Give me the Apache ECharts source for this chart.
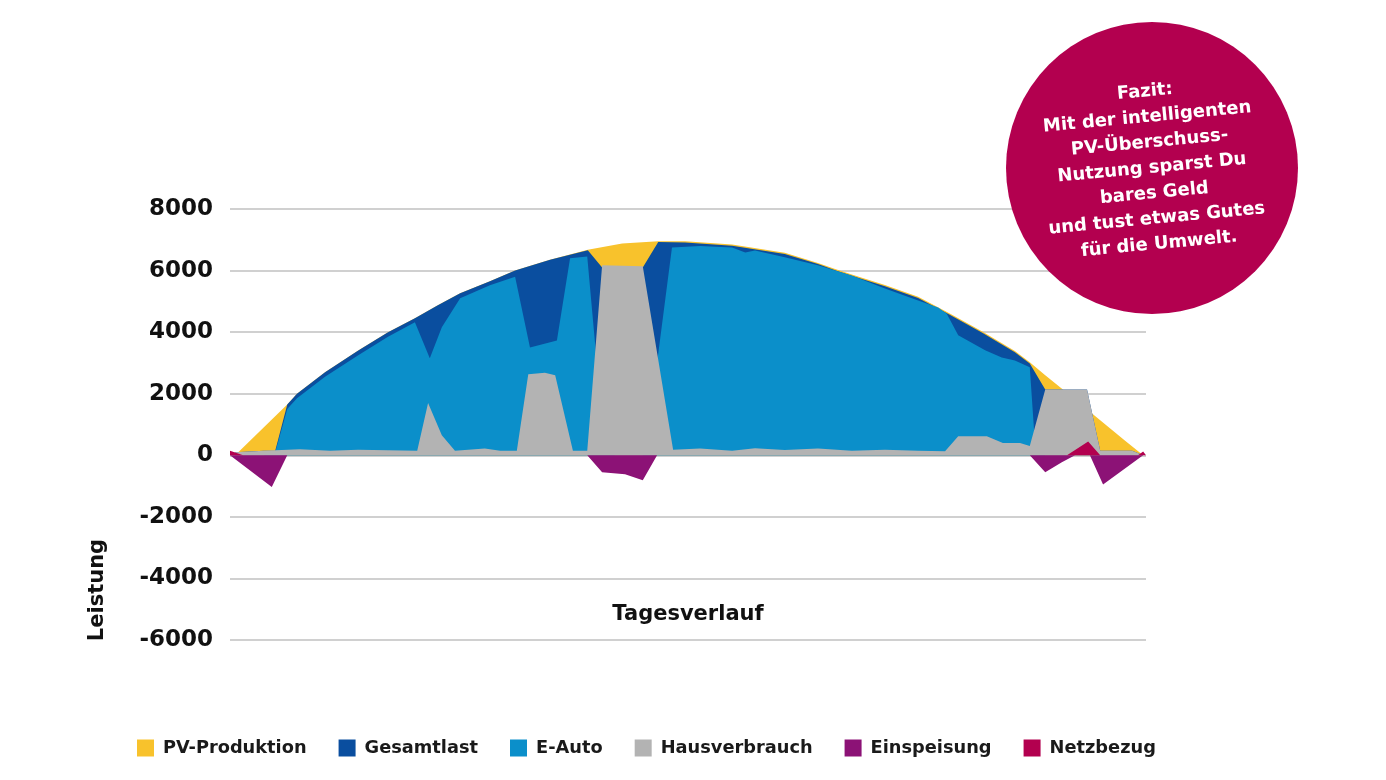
<!DOCTYPE html>
<html>
<head>
<meta charset="utf-8">
<script src="https://cdn.jsdelivr.net/npm/echarts@6/dist/echarts.min.js"></script>
<style>
html,body{margin:0;padding:0;background:#fff;}
#chart{width:1386px;height:780px;}
</style>
</head>
<body>
<div id="chart"></div>
<script>
// Zeit in Stunden (Tagesverlauf), Leistung in W
const pvProduktion = [[5.00,0],[5.09,0],[6.00,1650],[6.17,2000],[6.66,2700],[7.24,3400],[7.76,4000],[8.23,4450],[8.63,4870],[9.02,5260],[9.54,5650],[9.98,6000],[10.59,6350],[11.25,6680],[11.85,6880],[12.48,6950],[12.95,6950],[13.77,6850],[14.69,6580],[15.27,6250],[15.57,6050],[15.86,5870],[16.44,5530],[17.02,5150],[17.54,4640],[18.14,4020],[18.71,3390],[18.97,3020],[19.24,2600],[19.64,2000],[20.20,1140],[20.63,480],[20.95,0],[21.00,0]];
const gesamtlast = [[5.09,100],[5.59,150],[5.79,150],[6.00,1650],[6.17,2000],[6.66,2700],[7.24,3400],[7.76,4000],[8.23,4450],[8.63,4870],[9.02,5260],[9.54,5650],[9.98,6000],[10.59,6350],[11.25,6660],[11.50,6100],[12.21,6100],[12.48,6930],[12.95,6910],[13.77,6810],[14.69,6540],[15.27,6210],[15.57,6010],[15.86,5830],[16.44,5490],[17.02,5110],[17.54,4600],[18.14,3980],[18.71,3350],[18.97,2980],[19.24,2140],[19.97,2140],[20.20,150],[20.76,150],[20.95,0]];
const eAuto = [[5.59,0],[5.79,100],[6.00,1500],[6.17,1850],[6.66,2550],[7.24,3250],[7.76,3850],[8.23,4320],[8.49,3150],[8.70,4160],[9.02,5100],[9.54,5520],[9.98,5800],[10.24,3500],[10.71,3730],[10.94,6400],[11.24,6460],[11.48,1500],[11.72,0],[12.21,0],[12.48,3300],[12.72,6750],[13.21,6800],[13.77,6750],[14.00,6590],[14.17,6650],[14.69,6430],[15.27,6170],[15.86,5840],[16.44,5420],[17.02,5030],[17.37,4800],[17.52,4600],[17.72,3900],[18.19,3410],[18.48,3180],[18.71,3080],[18.97,2860],[19.06,400],[19.24,0],[21.00,0]];
const hausverbrauch = [[5.00,0],[5.09,100],[5.59,150],[6.22,200],[6.75,150],[7.24,180],[8.27,150],[8.46,1700],[8.70,650],[8.93,150],[9.45,220],[9.72,150],[10.01,150],[10.21,2630],[10.50,2680],[10.68,2600],[10.99,150],[11.24,150],[11.50,6170],[12.21,6140],[12.74,180],[13.21,220],[13.77,150],[14.17,230],[14.69,170],[15.27,220],[15.86,150],[16.44,180],[17.02,150],[17.49,130],[17.72,620],[18.22,620],[18.50,400],[18.80,400],[18.97,300],[19.24,2140],[19.97,2140],[20.20,150],[20.76,150],[20.95,0]];
const einspeisung = [[5.00,0],[5.73,-1030],[6.00,0],[11.24,0],[11.50,-550],[11.90,-620],[12.21,-810],[12.46,0],[18.97,0],[19.24,-550],[19.53,-230],[19.76,0],[20.02,0],[20.25,-950],[20.95,0],[21.00,0]];
const netzbezug = [[5.00,150],[5.23,0],[19.62,0],[19.99,450],[20.20,0],[20.86,0],[20.95,120],[21.00,0]];

const seriesNames = ['PV-Produktion','Gesamtlast','E-Auto','Hausverbrauch','Einspeisung','Netzbezug'];
const seriesData = [pvProduktion, gesamtlast, eAuto, hausverbrauch, einspeisung, netzbezug];
const seriesColors = ['#F8C22C','#0A4E9F','#0B8FCA','#B3B3B3','#8C1276','#B3004F'];
const yMin = -6000, yMax = 8000, yStep = 2000;
const xAxisName = 'Tagesverlauf';
const yAxisName = 'Leistung';
const fazitLines = ['Fazit:','Mit der intelligenten','PV-Überschuss-','Nutzung sparst Du','bares Geld','und tust etwas Gutes','für die Umwelt.'];

const FONT = '"DejaVu Sans", sans-serif';
const chart = echarts.init(document.getElementById('chart'));
chart.setOption({
  animation: false,
  backgroundColor: '#ffffff',
  grid: {left: 230, right: 240, top: 209, bottom: 140},
  xAxis: {type: 'value', min: 5, max: 21, show: false},
  yAxis: {
    type: 'value', min: yMin, max: yMax, interval: yStep,
    axisLine: {show: false}, axisTick: {show: false},
    axisLabel: {fontFamily: FONT, fontSize: 23, fontWeight: 'bold', color: '#111', margin: 17,
                formatter: v => String(v)},
    splitLine: {lineStyle: {color: '#d0d0d0', width: 2}}
  },
  legend: {
    left: 132, top: 734, itemWidth: 17, itemHeight: 17, itemGap: 32, icon: 'rect',
    textStyle: {fontFamily: FONT, fontSize: 17.8, fontWeight: 'bold', color: '#1a1a1a', padding: [0,0,0,4]},
    data: seriesNames
  },
  series: seriesNames.map((n, i) => ({
    name: n, type: 'line', data: seriesData[i], showSymbol: false, symbol: 'none',
    lineStyle: {width: 0}, itemStyle: {color: seriesColors[i]},
    areaStyle: {color: seriesColors[i], opacity: 1}, z: 2 + i
  })),
  graphic: [
    {type: 'text', position: [688, 615],
     style: {text: xAxisName, font: 'bold 21px ' + FONT, fill: '#111', align: 'center', verticalAlign: 'middle'}},
    {type: 'text', position: [98, 590], rotation: Math.PI / 2,
     style: {text: yAxisName, font: 'bold 21px ' + FONT, fill: '#111', align: 'center', verticalAlign: 'middle'}},
    {type: 'circle', shape: {cx: 1152, cy: 168, r: 146}, style: {fill: '#B3004F'}, z: 10},
    {type: 'text', position: [1152, 168], rotation: 0.094, z: 11,
     style: {text: fazitLines.join('\n'), font: 'bold 18px ' + FONT, fill: '#ffffff', align: 'center', verticalAlign: 'middle', lineHeight: 25.5}}
  ]
});
</script>
</body>
</html>
